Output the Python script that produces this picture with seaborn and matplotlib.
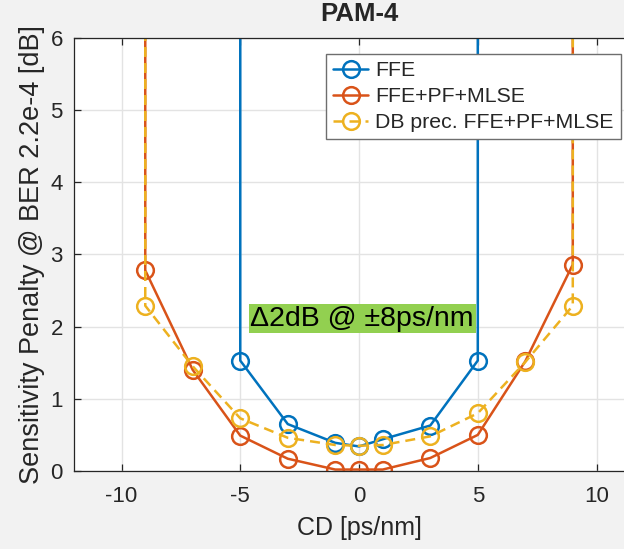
import numpy as np
import pandas as pd
import matplotlib
matplotlib.use("Agg")
import matplotlib.pyplot as plt
import seaborn as sns

# Chromatic dispersion values (ps/nm) and sensitivity penalties (dB)
ffe_cd = [-5, -3, -1, 0, 1, 3, 5]
ffe_pen = [1.53, 0.65, 0.39, 0.34, 0.44, 0.63, 1.53]

mlse_cd = [-9, -7, -5, -3, -1, 0, 1, 3, 5, 7, 9]
mlse_pen = [2.78, 1.40, 0.49, 0.17, 0.02, 0.02, 0.02, 0.18, 0.50, 1.52, 2.86]

db_cd = [-9, -7, -5, -3, -1, 0, 1, 3, 5, 7, 9]
db_pen = [2.29, 1.45, 0.73, 0.46, 0.36, 0.35, 0.36, 0.48, 0.80, 1.51, 2.29]

series_names = ["FFE", "FFE+PF+MLSE", "DB prec. FFE+PF+MLSE"]
series_colors = ["#0072BD", "#D95319", "#EDB120"]
series_styles = ["-", "-", (0, (4, 2.4))]

# Beyond the last measured CD the BER target is not reached: the curve
# goes off scale, drawn as a vertical line out of the plot area.
UNBOUNDED = 50.0

x_ticks = [-10, -5, 0, 5, 10]
y_ticks = [0, 1, 2, 3, 4, 5, 6]


def with_unbounded_ends(cd, pen):
    xs = [cd[0]] + list(cd) + [cd[-1]]
    ys = [UNBOUNDED] + list(pen) + [UNBOUNDED]
    return xs, ys


sns.set_style("white")
plt.rcParams["font.family"] = ["Liberation Sans", "DejaVu Sans"]
plt.rcParams["axes.unicode_minus"] = False

fig = plt.figure(figsize=(6.24, 5.49), dpi=100, facecolor="#f2f2f2")
ax = fig.add_axes([0.1186, 0.1421, 0.9135, 0.7887])
ax.set_facecolor("white")

for name, cd, pen, color, ls in zip(
    series_names,
    [ffe_cd, mlse_cd, db_cd],
    [ffe_pen, mlse_pen, db_pen],
    series_colors,
    series_styles,
):
    xs, ys = with_unbounded_ends(cd, pen)
    df = pd.DataFrame({"cd": xs, "pen": ys})
    sns.lineplot(
        data=df, x="cd", y="pen", ax=ax, sort=False, estimator=None,
        color=color, linewidth=1.8, linestyle=ls, marker="o",
        markersize=12, markerfacecolor="none", markeredgecolor=color,
        markeredgewidth=1.8, label=name,
    )

ax.set_xlim(-12, 12)
ax.set_ylim(0, 6)
ax.set_xticks(x_ticks)
ax.set_yticks(y_ticks)
ax.grid(True, color="#e3e3e3", linewidth=1.0)
ax.set_axisbelow(True)
ax.tick_params(direction="in", length=5, width=0.9, color="#262626",
               labelsize=16, labelcolor="#262626", top=True, right=True,
               bottom=True, left=True)
ax.tick_params(axis="x", pad=11)
ax.tick_params(axis="y", pad=8)
for sp in ax.spines.values():
    sp.set_color("#262626")
    sp.set_linewidth(0.9)

ax.set_xlabel("CD [ps/nm]", fontsize=18, color="#262626", labelpad=6)
ax.set_ylabel("Sensitivity Penalty @ BER 2.2e-4 [dB]", fontsize=19.5,
              color="#262626", labelpad=4)
ax.set_title("PAM-4", fontsize=18.5, fontweight="bold", pad=12)

ax.text(0.13, 2.11, "\u03942dB @ \u00b18ps/nm", fontsize=20.5, color="black",
        ha="center", va="center",
        bbox=dict(boxstyle="square,pad=0.06", facecolor="#92D050",
                  edgecolor="none"))

leg = ax.legend(loc="upper left", bbox_to_anchor=(0.442, 0.963),
                borderaxespad=0, fontsize=15.3, frameon=True, fancybox=False,
                framealpha=1, edgecolor="#6e6e6e", handlelength=1.65,
                handletextpad=0.3, labelspacing=0.32, borderpad=0.35,
                numpoints=1)
leg.get_frame().set_linewidth(1.0)

fig.savefig("out.png", dpi=100, facecolor=fig.get_facecolor())
